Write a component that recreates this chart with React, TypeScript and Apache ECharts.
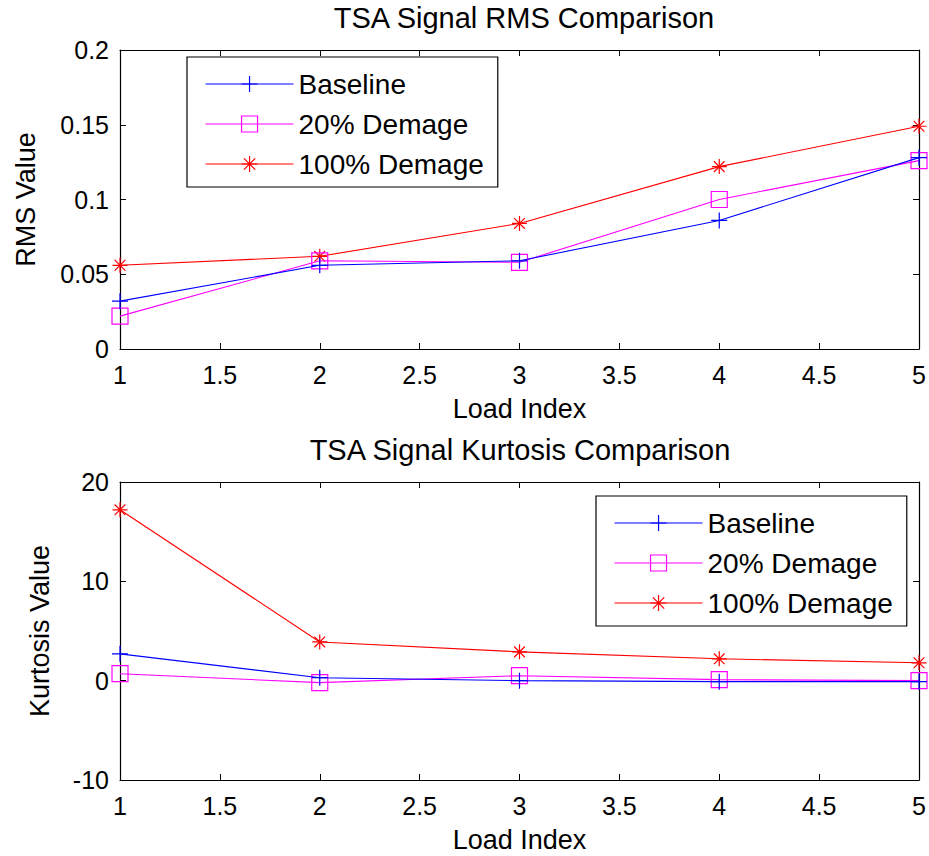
import React, { useEffect, useRef } from 'react';
import * as echarts from 'echarts';

const loadIndex = [1, 2, 3, 4, 5];
const seriesNames = ['Baseline', '20% Demage', '100% Demage'];

const rmsBaseline = [0.032, 0.056, 0.059, 0.086, 0.128];
const rms20 = [0.022, 0.059, 0.058, 0.1, 0.126];
const rms100 = [0.056, 0.062, 0.084, 0.122, 0.149];

const kurtBaseline = [2.7, 0.3, 0.0, -0.1, -0.1];
const kurt20 = [0.7, -0.2, 0.5, 0.1, 0.0];
const kurt100 = [17.2, 3.9, 2.9, 2.2, 1.8];

const FONT = '"Liberation Sans", Arial, sans-serif';
const FS = 25;
const NAME_FS = 27;

const plusPath = 'path://M0,8L16,8M8,0L8,16';
const starPath = 'path://M8,0L8,16M0,8L16,8M2.3,2.3L13.7,13.7M13.7,2.3L2.3,13.7';

const styles = [
  { color: '#0000ff', symbol: plusPath, size: 16 },
  { color: '#ff00ff', symbol: 'rect', size: 16 },
  { color: '#ff0000', symbol: starPath, size: 15 },
];

function pairs(ys: number[]) {
  return loadIndex.map((x, i) => [x, ys[i]]);
}

function makeSeries(name: string, idx: number, ys: number[], axis: number) {
  const s = styles[idx];
  return {
    name,
    type: 'line',
    xAxisIndex: axis,
    yAxisIndex: axis,
    data: pairs(ys),
    symbol: s.symbol,
    symbolSize: s.size,
    showAllSymbol: true,
    lineStyle: { color: s.color, width: 1.1 },
    itemStyle: { color: 'transparent', borderColor: s.color, borderWidth: 1.2 },
    emphasis: { disabled: true },
    z: 3 - idx,
  };
}

function xAxes(gridIndex: number) {
  const common = {
    type: 'value',
    gridIndex,
    min: 1,
    max: 5,
    interval: 0.5,
    splitLine: { show: false },
    axisLine: { show: true, onZero: false, lineStyle: { color: '#000', width: 1.2 } },
    axisTick: { show: true, inside: true, length: 6, lineStyle: { color: '#000' } },
  };
  return [
    {
      ...common,
      position: 'bottom',
      axisLabel: {
        show: true,
        color: '#000',
        fontSize: FS,
        fontFamily: FONT,
        margin: 13,
        formatter: (v: number) => String(v),
      },
      name: 'Load Index',
      nameLocation: 'middle',
      nameGap: 46,
      nameTextStyle: { color: '#000', fontSize: NAME_FS, fontFamily: FONT },
    },
    { ...common, position: 'top', axisLabel: { show: false } },
  ];
}

function yAxes(gridIndex: number, min: number, max: number, interval: number, name: string, nameGap: number) {
  const common = {
    type: 'value',
    gridIndex,
    min,
    max,
    interval,
    splitLine: { show: false },
    axisLine: { show: true, onZero: false, lineStyle: { color: '#000', width: 1.2 } },
    axisTick: { show: true, inside: true, length: 6, lineStyle: { color: '#000' } },
  };
  return [
    {
      ...common,
      position: 'left',
      axisLabel: {
        show: true,
        color: '#000',
        fontSize: FS,
        fontFamily: FONT,
        margin: 11,
        formatter: (v: number) => String(Math.round(v * 1000) / 1000),
      },
      name,
      nameLocation: 'middle',
      nameGap,
      nameTextStyle: { color: '#000', fontSize: NAME_FS, fontFamily: FONT },
    },
    { ...common, position: 'right', axisLabel: { show: false } },
  ];
}

function legend(left: number, top: number) {
  return {
    data: seriesNames,
    orient: 'vertical',
    left,
    top,
    padding: [13, 14, 9, 18],
    itemWidth: 88,
    itemHeight: 20,
    itemGap: 12,
    borderColor: '#000',
    borderWidth: 1.2,
    backgroundColor: '#fff',
    selectedMode: false,
    textStyle: { color: '#000', fontSize: 28, fontFamily: FONT },
    itemStyle: { borderWidth: 1.2 },
    lineStyle: { width: 1.1 },
  };
}

export default function App() {
  const ref = useRef<HTMLDivElement>(null);
  useEffect(() => {
    document.body.style.margin = '0';
    const chart = echarts.init(ref.current!, null, { renderer: 'svg' });
    const xa = [...xAxes(0), ...xAxes(1)];
    const ya = [
      ...yAxes(0, 0, 0.2, 0.05, 'RMS Value', 81),
      ...yAxes(1, -10, 20, 10, 'Kurtosis Value', 67),
    ];
    const option: any = {
      animation: false,
      backgroundColor: '#fff',
      grid: [
        { left: 120, top: 50, width: 799, height: 299 },
        { left: 120, top: 482, width: 799, height: 298 },
      ],
      xAxis: xa,
      yAxis: ya,
      legend: [legend(187, 57), legend(596, 496)],
      graphic: [
        {
          type: 'text',
          x: 524,
          y: 18,
          style: {
            text: 'TSA Signal RMS Comparison',
            align: 'center',
            verticalAlign: 'middle',
            font: `29px ${FONT}`,
            fill: '#000',
          },
        },
        {
          type: 'text',
          x: 520,
          y: 450,
          style: {
            text: 'TSA Signal Kurtosis Comparison',
            align: 'center',
            verticalAlign: 'middle',
            font: `29px ${FONT}`,
            fill: '#000',
          },
        },
      ],
      series: [
        makeSeries(seriesNames[0], 0, rmsBaseline, 0),
        makeSeries(seriesNames[1], 1, rms20, 0),
        makeSeries(seriesNames[2], 2, rms100, 0),
        makeSeries(seriesNames[0], 0, kurtBaseline, 2),
        makeSeries(seriesNames[1], 1, kurt20, 2),
        makeSeries(seriesNames[2], 2, kurt100, 2),
      ],
    };
    chart.setOption(option);
    return () => chart.dispose();
  }, []);
  return <div ref={ref} style={{ width: 929, height: 856 }} />;
}
